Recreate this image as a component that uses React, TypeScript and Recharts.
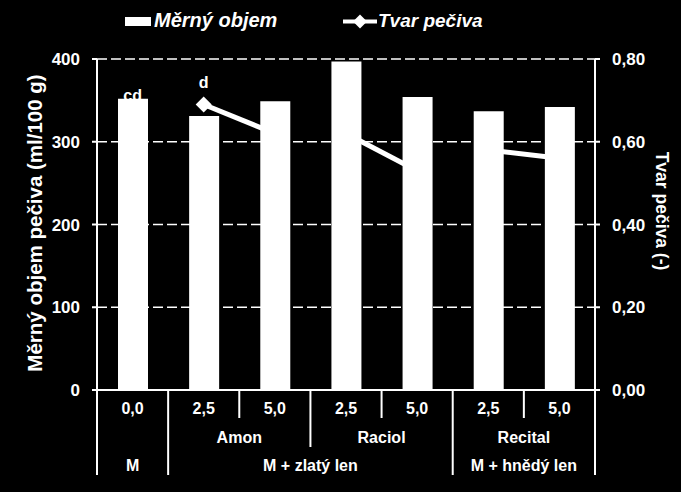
import React from 'react';
import { ComposedChart, Bar, Line, XAxis, YAxis, CartesianGrid, Legend, LabelList } from 'recharts';

// ---- data ----
const doses = ['0,0', '2,5', '5,0', '2,5', '5,0', '2,5', '5,0'];
const cultivars = ['', 'Amon', 'Amon', 'Raciol', 'Raciol', 'Recital', 'Recital'];
const groups = ['M', 'M + zlatý len', 'M + zlatý len', 'M + zlatý len', 'M + zlatý len', 'M + hnědý len', 'M + hnědý len'];
const volume = [352, 331, 349, 397, 354, 337, 342];
const shapeControl = [0.66, null, null, null, null, null, null];
const shapeAmon = [null, 0.69, 0.62, null, null, null, null];
const shapeRaciol = [null, null, null, 0.62, 0.53, null, null];
const shapeRecital = [null, null, null, null, null, 0.58, 0.56];
const shapeLetters = ['cd', 'd', '', '', '', '', ''];
const leftTicks = [0, 100, 200, 300, 400];
const rightTicks = [0, 0.2, 0.4, 0.6, 0.8];
const legendNames = ['Měrný objem', 'Tvar pečiva'];
const leftTitle = 'Měrný objem pečiva (ml/100 g)';
const rightTitle = 'Tvar pečiva (-)';

const data = doses.map((d, i) => ({
  dose: d,
  volume: volume[i],
  control: shapeControl[i],
  amon: shapeAmon[i],
  raciol: shapeRaciol[i],
  recital: shapeRecital[i],
  letter: shapeLetters[i],
}));

// ---- layout ----
const W = 681;
const H = 492;
const LEFT_W = 97;
const RIGHT_W = 86;
const TOP = 59;
const X_H = 102;
const BAND = (W - LEFT_W - RIGHT_W) / doses.length;
const FONT = '"Liberation Sans", Arial, sans-serif';

const CategoryTick = (props: any) => {
  const { x, y, index } = props;
  const n = doses.length;
  const left = x - BAND / 2;
  const right = x + BAND / 2;
  const runLen = (arr: string[], i: number) => {
    let k = i;
    while (k + 1 < n && arr[k + 1] === arr[i]) k++;
    return k - i + 1;
  };
  let sepEnd = y + 28;
  if (index === 0 || groups[index] !== groups[index - 1]) sepEnd = y + 85;
  else if (cultivars[index] !== cultivars[index - 1]) sepEnd = y + 57;
  const els: any[] = [];
  els.push(<line key="s" x1={left} x2={left} y1={y} y2={sepEnd} stroke="#fff" strokeWidth={2} />);
  if (index === n - 1) {
    els.push(<line key="e" x1={right} x2={right} y1={y} y2={y + 85} stroke="#fff" strokeWidth={2} />);
  }
  const textProps = { fill: '#fff', fontSize: 16, fontWeight: 'bold', fontFamily: FONT, textAnchor: 'middle' as const, dy: '0.36em' };
  els.push(<text key="t1" x={x} y={y + 18} {...textProps}>{doses[index]}</text>);
  if (cultivars[index] && (index === 0 || cultivars[index] !== cultivars[index - 1])) {
    const len = runLen(cultivars, index);
    els.push(<text key="t2" x={left + (len * BAND) / 2} y={y + 47} {...textProps}>{cultivars[index]}</text>);
  }
  if (index === 0 || groups[index] !== groups[index - 1]) {
    const len = runLen(groups, index);
    els.push(<text key="t3" x={left + (len * BAND) / 2} y={y + 75} {...textProps}>{groups[index]}</text>);
  }
  return <g>{els}</g>;
};

const Diamond = (props: any) => {
  const { cx, cy, index } = props;
  if (cx == null || cy == null || props.value == null || Number.isNaN(cy)) return <g key={`d${index}`} />;
  const r = 8;
  return (
    <path key={`d${index}`} d={`M${cx},${cy - r} L${cx + r},${cy} L${cx},${cy + r} L${cx - r},${cy} Z`} fill="#fff" />
  );
};

const LegendContent = () => (
  <svg width={W} height={40} style={{ display: 'block' }}>
    <rect x={125} y={17} width={26} height={9} fill="#fff" />
    <text x={154} y={27} fill="#fff" fontSize={20} fontWeight="bold" fontStyle="italic" fontFamily={FONT}>
      {legendNames[0]}
    </text>
    <line x1={343} x2={377} y1={21.5} y2={21.5} stroke="#fff" strokeWidth={4} />
    <path d="M360,14.5 L367,21.5 L360,28.5 L353,21.5 Z" fill="#fff" />
    <text x={378} y={27} fill="#fff" fontSize={19} fontWeight="bold" fontStyle="italic" fontFamily={FONT}>
      {legendNames[1]}
    </text>
  </svg>
);

const LeftTitle = (props: any) => {
  const vb = props.viewBox || { x: 0, y: TOP, width: LEFT_W, height: 331 };
  const cx = vb.x + 35;
  const cy = vb.y + vb.height / 2 - 1.5;
  return (
    <text x={cx} y={cy} transform={`rotate(-90 ${cx} ${cy})`} textAnchor="middle" dy="0.36em" fill="#fff"
      fontSize={20.5} fontWeight="bold" fontFamily={FONT}>
      {leftTitle}
    </text>
  );
};

const RightTitle = (props: any) => {
  const vb = props.viewBox || { x: W - RIGHT_W, y: TOP, width: RIGHT_W, height: 331 };
  const cx = vb.x + 67;
  const cy = vb.y + vb.height / 2 - 13.5;
  return (
    <text x={cx} y={cy} transform={`rotate(90 ${cx} ${cy})`} textAnchor="middle" dy="0.36em" fill="#fff"
      fontSize={17.5} fontWeight="bold" fontFamily={FONT}>
      {rightTitle}
    </text>
  );
};

const LetterLabel = (props: any) => {
  const { x, y, index, value } = props;
  const t = shapeLetters[index];
  if (!t || value == null || x == null || y == null || Number.isNaN(Number(y)) || Number(y) < 20) return null;
  return (
    <text x={x} y={y - 22} textAnchor="middle" dy="0.36em" fill="#fff" fontSize={16} fontWeight="bold" fontFamily={FONT}>
      {t}
    </text>
  );
};

const tickStyle = { fill: '#fff', fontSize: 17, fontWeight: 'bold', fontFamily: FONT };

export default function App() {
  return (
    <div style={{ position: 'absolute', left: 0, top: 0, width: W, height: H, background: '#000' }}>
      <ComposedChart width={W} height={H} data={data} margin={{ top: TOP, right: 0, bottom: 0, left: 0 }}>
        <CartesianGrid yAxisId="left" vertical={false} stroke="#fff" strokeWidth={1.5} strokeDasharray="10 4" />
        <XAxis
          dataKey="dose"
          height={X_H}
          tickLine={false}
          tickSize={0}
          tickMargin={0}
          interval={0}
          axisLine={{ stroke: '#fff', strokeWidth: 2 }}
          tick={<CategoryTick />}
        />
        <YAxis
          yAxisId="left"
          width={LEFT_W}
          domain={[0, 400]}
          ticks={leftTicks}
          tickSize={5}
          tickMargin={12}
          tick={tickStyle}
          tickLine={{ stroke: '#fff', strokeWidth: 2 }}
          axisLine={{ stroke: '#fff', strokeWidth: 2 }}
          label={<LeftTitle />}
        />
        <YAxis
          yAxisId="right"
          orientation="right"
          width={RIGHT_W}
          domain={[0, 0.8]}
          ticks={rightTicks}
          tickSize={5}
          tickMargin={12}
          tick={tickStyle}
          tickFormatter={(v: number) => v.toFixed(2).replace('.', ',')}
          tickLine={{ stroke: '#fff', strokeWidth: 2 }}
          axisLine={{ stroke: '#fff', strokeWidth: 2 }}
          label={<RightTitle />}
        />
        <Legend verticalAlign="middle" content={<LegendContent />} wrapperStyle={{ top: 0, left: 0, width: W, height: 40 }} />
        <Line yAxisId="right" dataKey="control" stroke="none" dot={false} isAnimationActive={false} zIndex={250}>
          <LabelList dataKey="control" content={<LetterLabel />} zIndex={250} />
        </Line>
        <Line yAxisId="right" dataKey="amon" stroke="#fff" strokeWidth={5} dot={<Diamond />} activeDot={false}
          isAnimationActive={false} zIndex={250}>
          <LabelList dataKey="amon" content={<LetterLabel />} zIndex={250} />
        </Line>
        <Line yAxisId="right" dataKey="raciol" stroke="#fff" strokeWidth={5} dot={<Diamond />} activeDot={false}
          isAnimationActive={false} zIndex={250} />
        <Line yAxisId="right" dataKey="recital" stroke="#fff" strokeWidth={5} dot={<Diamond />} activeDot={false}
          isAnimationActive={false} zIndex={250} />
        <Bar yAxisId="left" dataKey="volume" fill="#fff" barSize={30} isAnimationActive={false} />
      </ComposedChart>
    </div>
  );
}
